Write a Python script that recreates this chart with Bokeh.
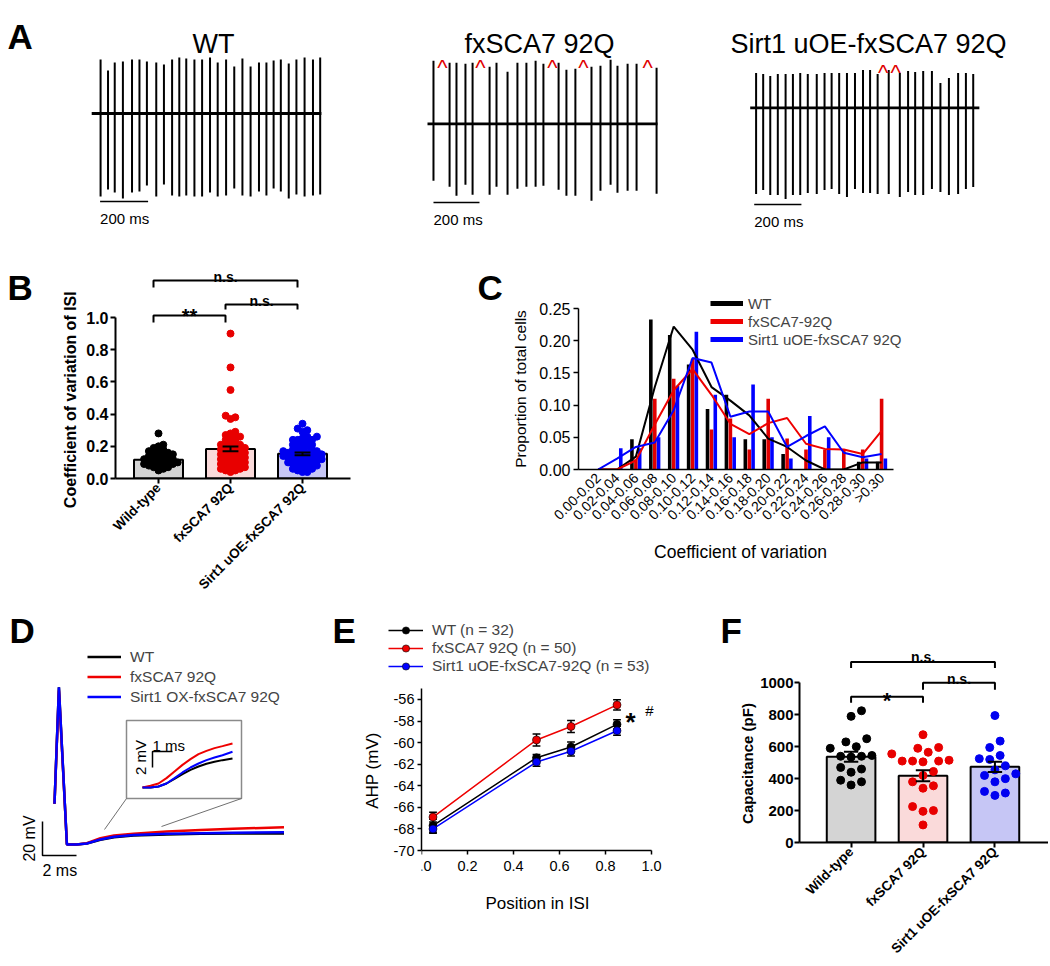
import math
from bokeh.plotting import figure
from bokeh.layouts import row, column
from bokeh.models import Range1d, Label, FixedTicker, PrintfTickFormatter, Legend, LegendItem
from bokeh.core.properties import value
from bokeh.embed import file_html
from bokeh.resources import INLINE

FONT = "Liberation Sans"
NAN = float("nan")

# ---------------- Panel A: spike trains (spike time ms, peak / trough amplitude a.u.) ----------------
wt_spike_t = [37, 68, 96, 130, 168, 199, 230, 269, 301, 335, 365, 394, 428, 460, 493, 525, 560, 594, 628, 662,
              697, 728, 758, 788, 821, 853, 887, 922, 952]
wt_spike_up = [54, 43, 51, 52, 54, 54, 52, 51, 49, 54, 56, 55, 54, 54, 56, 51, 54, 47, 55, 47,
               51, 51, 53, 54, 50, 54, 56, 54, 56]
wt_spike_dn = [83, 76, 79, 85, 79, 78, 72, 83, 71, 82, 83, 82, 83, 83, 79, 83, 82, 75, 82, 83,
               78, 82, 75, 78, 85, 81, 83, 82, 81]
wt_len = 957

fx_spike_t = [26, 96, 126, 165, 196, 270, 300, 348, 391, 430, 470, 504, 570, 604, 643, 713, 752, 796, 826, 870,
              909, 996]
fx_spike_up = [63, 61, 61, 60, 61, 57, 61, 52, 61, 61, 63, 60, 61, 54, 55, 57, 58, 64, 58, 60, 60, 56]
fx_spike_dn = [57, 63, 72, 61, 71, 71, 63, 71, 65, 63, 63, 62, 66, 72, 72, 77, 67, 61, 69, 67, 67, 70]
fx_len = 1000
fx_carets = [65, 230, 543, 678, 957]

si_spike_t = [25, 55, 85, 117, 150, 181, 212, 244, 282, 315, 345, 377, 410, 444, 478, 508, 540, 587, 634, 669,
              699, 733, 770, 806, 842, 881, 914, 945]
si_spike_up = [35, 34, 32, 34, 34, 34, 35, 34, 34, 35, 35, 35, 35, 35, 38, 38, 34, 38, 35, 37,
               36, 37, 37, 25, 30, 35, 35, 34]
si_spike_dn = [86, 82, 87, 87, 91, 87, 87, 85, 86, 82, 81, 86, 89, 81, 85, 85, 86, 86, 89, 84,
               87, 87, 81, 84, 87, 86, 81, 79]
si_len = 971
si_carets = [563, 616]

# ---------------- Panel B: CV of ISI ----------------
groups = ["Wild-type", "fxSCA7 92Q", "Sirt1 uOE-fxSCA7 92Q"]
b_mean = [0.116, 0.184, 0.153]
b_sem = [0.008, 0.014, 0.009]
b_wt = [0.28, 0.21, 0.20, 0.19, 0.18, 0.17, 0.17, 0.16, 0.16, 0.15, 0.15, 0.14, 0.14, 0.13, 0.13, 0.12,
        0.12, 0.12, 0.11, 0.11, 0.10, 0.10, 0.10, 0.09, 0.09, 0.09, 0.08, 0.08, 0.07, 0.07, 0.06, 0.05]
b_fx = [0.90, 0.69, 0.55, 0.39, 0.38, 0.37, 0.29, 0.28, 0.27, 0.26, 0.26, 0.25, 0.24, 0.23, 0.22, 0.21,
        0.21, 0.20, 0.20, 0.19, 0.19, 0.18, 0.18, 0.17, 0.17, 0.16, 0.16, 0.15, 0.15, 0.14, 0.14, 0.13,
        0.13, 0.12, 0.12, 0.11, 0.11, 0.10, 0.10, 0.09, 0.09, 0.08, 0.08, 0.07, 0.07, 0.06, 0.06, 0.05,
        0.05, 0.04]
b_si = [0.34, 0.31, 0.30, 0.29, 0.26, 0.26, 0.25, 0.24, 0.24, 0.24, 0.23, 0.22, 0.21, 0.21, 0.20, 0.20,
        0.19, 0.18, 0.18, 0.17, 0.17, 0.17, 0.16, 0.16, 0.16, 0.15, 0.15, 0.15, 0.14, 0.14, 0.14, 0.13,
        0.13, 0.13, 0.12, 0.12, 0.12, 0.11, 0.11, 0.10, 0.10, 0.10, 0.09, 0.09, 0.08, 0.08, 0.07, 0.07,
        0.06, 0.06, 0.05, 0.04, 0.04]

# ---------------- Panel C: CV histogram ----------------
c_bins = ["0.00-0.02", "0.02-0.04", "0.04-0.06", "0.06-0.08", "0.08-0.10", "0.10-0.12", "0.12-0.14",
          "0.14-0.16", "0.16-0.18", "0.18-0.20", "0.20-0.22", "0.22-0.24", "0.24-0.26", "0.26-0.28",
          "0.28-0.30", ">0.30"]
c_wt_bar = [0, 0, 0.047, 0.233, 0.209, 0.163, 0.094, 0.116, 0.047, 0.047, 0.024, 0, 0, 0, 0.012, 0.012]
c_fx_bar = [0, 0, 0.016, 0.110, 0.141, 0.172, 0.062, 0.079, 0.031, 0.110, 0.048, 0.031, 0.031, 0.031, 0.031, 0.110]
c_si_bar = [0, 0.033, 0.033, 0.050, 0.130, 0.214, 0.116, 0.050, 0.132, 0.050, 0.017, 0.083, 0.050, 0, 0.017, 0.017]
c_wt_line = [0, 0, 0.020, 0.128, 0.222, 0.186, 0.128, 0.107, 0.084, 0.048, 0.035, 0.014, 0, 0, 0.011, 0.011]
c_fx_line = [0, 0, 0.014, 0.070, 0.123, 0.156, 0.116, 0.071, 0.055, 0.072, 0.080, 0.040, 0.032, 0.031, 0.024, 0.060]
c_si_line = [0, 0.017, 0.035, 0.042, 0.092, 0.173, 0.166, 0.082, 0.090, 0.090, 0.035, 0.052, 0.067, 0.026, 0.019, 0.024]
c_labels = ["WT", "fxSCA7-92Q", "Sirt1 uOE-fxSCA7 92Q"]

# ---------------- Panel D: averaged action potentials (ms, mV) ----------------
d_t = [0, 0.26, 0.73, 1.3, 1.9, 2.7, 3.5, 4.65, 6.6, 8.6, 10.5, 13.5]
d_wt = [-44, 24.5, -68, -68, -67.4, -65.2, -63.7, -62.7, -62.1, -61.7, -61.6, -61.5]
d_fx = [-44, 22.5, -68, -68, -67.2, -64.3, -62.7, -61.7, -60.4, -59.4, -58.8, -57.8]
d_si = [-44, 24.5, -68, -68, -67.4, -65.0, -63.4, -62.4, -61.7, -61.4, -61.1, -60.8]
d_labels = ["WT", "fxSCA7 92Q", "Sirt1 OX-fxSCA7 92Q"]
# inset (ms, mV relative to inset start)
ins_t = [0, 0.4, 0.8, 1.2, 1.6, 2.0, 2.4, 2.8, 3.2, 3.6, 4.0, 4.5]
ins_wt = [0, 0, 0.13, 0.5, 1.08, 1.67, 2.21, 2.63, 2.96, 3.21, 3.42, 3.63]
ins_fx = [0, 0.21, 0.5, 1.17, 2.0, 2.83, 3.54, 4.17, 4.58, 4.92, 5.17, 5.5]
ins_si = [0, 0, 0.13, 0.5, 1.17, 1.88, 2.5, 3.0, 3.42, 3.75, 4.04, 4.46]

# ---------------- Panel E: AHP vs position in ISI ----------------
e_pos = [0.05, 0.5, 0.65, 0.85]
e_wt = [-67.7, -61.4, -60.4, -58.3]
e_wt_err = [0.6, 0.3, 0.45, 0.43]
e_fx = [-66.9, -59.75, -58.5, -56.5]
e_fx_err = [0.45, 0.55, 0.55, 0.48]
e_si = [-68.0, -61.8, -60.8, -58.9]
e_si_err = [0.4, 0.4, 0.43, 0.42]
e_labels = ["WT (n = 32)", "fxSCA7 92Q (n = 50)", "Sirt1 uOE-fxSCA7-92Q (n = 53)"]

# ---------------- Panel F: capacitance ----------------
f_mean = [537, 418, 474]
f_sem = [31, 35, 32]
f_wt = [825, 790, 650, 630, 600, 590, 545, 540, 540, 535, 470, 460, 440, 390, 380, 360]
f_fx = [675, 595, 590, 565, 555, 515, 510, 510, 510, 505, 445, 420, 380, 355, 340, 225, 200, 195, 110]
f_si = [795, 635, 595, 545, 525, 520, 480, 455, 430, 420, 400, 380, 320, 310, 295]

BAR_FILL = ["#d4d4d4", "#fadada", "#c6c6f5"]
DOT = ["#000000", "#e80000", "#0000f0"]
RED = "#ee0000"
BLUE = "#0000ff"


# ---------------- helpers ----------------
def mk(canvas, frame, xa=(0, 0, 1), ya=(0, 0, 1), axes=True):
    L, T, R, B = canvas
    l, t, r, b = frame

    def fx(px):
        return xa[1] + (px - xa[0]) / xa[2]

    def fy(py):
        return ya[1] + (ya[0] - py) / ya[2]

    kw = {} if axes else dict(x_axis_location=None, y_axis_location=None)
    p = figure(width=int(R - L), height=int(B - T),
               x_range=Range1d(fx(l), fx(r)), y_range=Range1d(fy(b), fy(t)),
               min_border_left=int(l - L), min_border_right=int(R - r),
               min_border_top=int(t - T), min_border_bottom=int(B - b),
               output_backend="svg", toolbar_location=None, **kw)
    p.outline_line_color = None
    p.grid.visible = False
    p.background_fill_color = "white"
    p.border_fill_color = "white"
    return p, fx, fy


def txt(p, x, y, text, size, bold=False, align="left", baseline="alphabetic", color="black", angle=0.0):
    p.add_layout(Label(x=x, y=y, text=text, text_font=FONT, text_font_size=f"{size}px",
                       text_font_style="bold" if bold else "normal", text_align=align,
                       text_baseline=baseline, text_color=color, angle=angle))


def style_axis(ax, lw, tick_out, lab_size, bold, lab_standoff, title_size=12, title_standoff=5):
    ax.axis_line_width = lw
    ax.axis_line_color = "black"
    ax.major_tick_line_width = lw
    ax.major_tick_line_color = "black"
    ax.major_tick_out = tick_out
    ax.major_tick_in = 0
    ax.minor_tick_line_color = None
    ax.major_label_text_font = FONT
    ax.major_label_text_font_size = f"{lab_size}px"
    ax.major_label_text_font_style = "bold" if bold else "normal"
    ax.major_label_text_color = "black"
    ax.major_label_standoff = lab_standoff
    ax.axis_label_text_font = FONT
    ax.axis_label_text_font_size = f"{title_size}px"
    ax.axis_label_text_font_style = "bold" if bold else "normal"
    ax.axis_label_text_color = "black"
    ax.axis_label_standoff = title_standoff


def swarm(vals, ppu_y, d, step):
    idx = sorted(range(len(vals)), key=lambda i: vals[i])
    placed = []
    off = [0.0] * len(vals)
    for i in idx:
        y = vals[i] * ppu_y
        k = 0
        while True:
            c = ((k + 1) // 2) * step * (1 if k % 2 else -1)
            if all((c - a) ** 2 + (y - bb) ** 2 >= d * d for a, bb in placed):
                break
            k += 1
        placed.append((c, y))
        off[i] = c
    return off


# ---------------- Row 1: Panel A ----------------
def trace_panel(canvas, x0, pxms, base, t, up, dn, dur, carets, caret_px, title, title_cx, bar_t, bar_px, letter=None):
    p, fx, fy = mk(canvas, canvas, (x0, 0.0, pxms), (base, 0.0, 1.0), axes=False)
    p.line([0, dur], [0, 0], line_color="black", line_width=2.8)
    p.segment(x0=t, y0=up, x1=t, y1=[-v for v in dn], line_color="black", line_width=2)
    if carets:
        p.text(x=carets, y=[fy(caret_px + 11)] * len(carets), text=["^"] * len(carets),
               text_color="#e00000", text_font=value(FONT), text_font_size="22px",
               text_align="center", text_baseline="alphabetic")
    p.line([bar_t, bar_t + 200], [fy(bar_px)] * 2, line_color="black", line_width=1.5)
    txt(p, bar_t, fy(bar_px + 17), "200 ms", 15)
    txt(p, fx(title_cx), fy(43), title, 27, align="center")
    if letter:
        txt(p, fx(7), fy(35.5), letter, 35, bold=True)
    return p


a1 = trace_panel((0, 0, 345, 262), 91.2, 0.24, 113, wt_spike_t, wt_spike_up, wt_spike_dn, wt_len,
                 [], 0, "WT", 213, 35, 201, letter="A")
a2 = trace_panel((345, 0, 700, 262), 427, 0.23, 123.3, fx_spike_t, fx_spike_up, fx_spike_dn, fx_len,
                 fx_carets, 56, "fxSCA7 92Q", 539, 26, 202)
a3 = trace_panel((700, 0, 1048, 262), 749.7, 0.236, 107.4, si_spike_t, si_spike_up, si_spike_dn, si_len,
                 si_carets, 61, "Sirt1 uOE-fxSCA7 92Q", 868, 17, 204)


# ---------------- bar + dot panels (B, F) ----------------
def bar_panel(canvas, frame, xa, ya, means, sems, pts, dot_size, swarm_d, yticks, yfmt, ybounds,
              tick_size, brackets, bdx, cap_half):
    p, fx, fy = mk(canvas, frame, xa, ya)
    ppx, ppy = xa[2], ya[2]
    xs = [0, 1, 2]
    p.vbar(x=xs, top=means, width=49 / ppx, fill_color=BAR_FILL, line_color="black", line_width=2)
    for i, vals in enumerate(pts):
        offs = swarm(vals, ppy, swarm_d, swarm_d * 0.5)
        p.scatter(x=[i + o / ppx for o in offs], y=vals, size=dot_size, marker="circle",
                  fill_color=DOT[i], line_color=DOT[i])
    lo = [m - s for m, s in zip(means, sems)]
    hi = [m + s for m, s in zip(means, sems)]
    p.segment(x0=xs, y0=lo, x1=xs, y1=hi, line_color="black", line_width=2)
    for yy in (lo, hi):
        p.segment(x0=[i - cap_half for i in xs], y0=yy, x1=[i + cap_half for i in xs], y1=yy,
                  line_color="black", line_width=2)
    for (i, j, yl, yg, t, ts, tb) in brackets:
        p.line([i + bdx, i + bdx, j + bdx, j + bdx], [fy(yg), fy(yl), fy(yl), fy(yg)],
               line_color="black", line_width=2)
        txt(p, (i + j) / 2 + bdx, fy(tb), t, ts, bold=True, align="center")
    style_axis(p.yaxis[0], 2, 5, tick_size, True, 2)
    style_axis(p.xaxis[0], 2, 5, 13.5, True, 2)
    p.yaxis.bounds = ybounds
    p.yaxis.ticker = FixedTicker(ticks=yticks)
    p.yaxis.formatter = PrintfTickFormatter(format=yfmt)
    p.xaxis.ticker = FixedTicker(ticks=xs)
    p.xaxis.major_label_overrides = {i: g for i, g in enumerate(groups)}
    p.xaxis.major_label_orientation = math.pi / 4
    return p


# ---------------- Row 2 ----------------
bl, blx, bly = mk((0, 262, 80, 600), (0, 262, 80, 600), axes=False)
txt(bl, blx(7), bly(287), "B", 35, bold=True)
txt(bl, blx(70), bly(397), "Coefficient of variation of  ISI", 16, bold=True, align="center",
    baseline="middle", angle=math.pi / 2)

b = bar_panel((80, 262, 380, 600), (115, 262, 350, 478), (158, 0, 72), (478, 0, 161),
              b_mean, b_sem, [b_wt, b_fx, b_si], 7, 4.8, [0, 0.2, 0.4, 0.6, 0.8, 1.0], "%.1f", (0, 1), 16,
              [(0, 2, 280, 287, "n.s.", 14, 276), (0, 1, 315, 322, "**", 20, 315),
               (1, 2, 304, 309, "n.s.", 14, 300)], -5 / 72, 0.11)

cl, clx, cly = mk((380, 262, 533, 600), (380, 262, 533, 600), axes=False)
txt(cl, clx(477), cly(287), "C", 35, bold=True)
txt(cl, clx(520), cly(388.5), "Proportion of total cells", 15.5, align="center", baseline="middle",
    angle=math.pi / 2)

c, cfx, cfy = mk((533, 262, 1048, 600), (578, 262, 902, 469), (597.6, 0, 18.9), (469, 0, 644))
idx = list(range(len(c_bins)))
for vals, col, off in ((c_wt_bar, "black", -0.21), (c_fx_bar, "#e00000", 0.0), (c_si_bar, BLUE, 0.2)):
    c.vbar(x=[i + off for i in idx], top=vals, width=0.19, fill_color=col, line_color=None)
for vals, col in ((c_wt_line, "black"), (c_fx_line, RED), (c_si_line, BLUE)):
    c.line(idx, vals, line_color=col, line_width=2)
style_axis(c.yaxis[0], 1.5, 5, 16, False, 3)
style_axis(c.xaxis[0], 1.5, 0, 14, False, 6, 17.5, 10)
c.yaxis.bounds = (0, 0.25)
c.yaxis.ticker = FixedTicker(ticks=[0, 0.05, 0.10, 0.15, 0.20, 0.25])
c.yaxis.formatter = PrintfTickFormatter(format="%.2f")
c.xaxis.bounds = (cfx(578), cfx(893))
c.xaxis.ticker = FixedTicker(ticks=idx)
c.xaxis.major_label_overrides = {i: lab for i, lab in enumerate(c_bins)}
c.xaxis.major_label_orientation = math.pi / 4
c.xaxis.axis_label = "Coefficient of variation"
c_dummies = [c.line(x=[NAN], y=[NAN], line_color=col, line_width=5) for col in ("black", RED, BLUE)]
c.add_layout(Legend(items=[LegendItem(label=value(l), renderers=[r]) for l, r in zip(c_labels, c_dummies)],
                    location=(132, 121), padding=0, spacing=0, margin=0, glyph_width=33, glyph_height=18,
                    label_height=18, label_standoff=5, border_line_color=None, background_fill_alpha=0,
                    label_text_font=FONT, label_text_font_size="15px"))

# ---------------- Row 3 ----------------
# Panel D (also carries the E letter and the E y-axis title)
d, dfx, dfy = mk((0, 600, 382, 964), (0, 600, 382, 964), (54, 0, 17), (844, -68, 1.7), axes=False)


def ifx(px):
    return (px - 142) / 20


def ify(py):
    return (787 - py) / 8


d.extra_x_ranges = {"ix": Range1d(ifx(0), ifx(382))}
d.extra_y_ranges = {"iy": Range1d(ify(964), ify(600))}
d.quad(left=dfx(126), right=dfx(241), top=dfy(720), bottom=dfy(798), fill_color="white",
       line_color="#8a8a8a", line_width=1.5)
d.segment(x0=[dfx(126), dfx(241)], y0=[dfy(798)] * 2, x1=[dfx(104), dfx(161)], y1=[dfy(829), dfy(826)],
          line_color="#707070", line_width=1)
for vals, col in ((ins_wt, "black"), (ins_fx, RED), (ins_si, BLUE)):
    d.line(ins_t, vals, line_color=col, line_width=2, x_range_name="ix", y_range_name="iy")
d.line([ifx(152), ifx(152), ifx(152) + 1], [ify(751) - 2, ify(751), ify(751)], line_color="black",
       line_width=1.5, x_range_name="ix", y_range_name="iy")
txt(d, dfx(152), dfy(745), "1 ms", 15)
txt(d, dfx(140), dfy(757), "2 mV", 15, align="center", baseline="middle", angle=math.pi / 2)
d_rs = []
for vals, col in ((d_wt, "black"), (d_fx, RED), (d_si, BLUE)):
    d_rs.append(d.line(d_t, vals, line_color=col, line_width=2.5))
sb_t, sb_v = dfx(42), dfy(855)
d.line([sb_t, sb_t, sb_t + 2], [sb_v + 20, sb_v, sb_v], line_color="black", line_width=1.5)
txt(d, dfx(29), dfy(838), "20 mV", 16, align="center", baseline="middle", angle=math.pi / 2)
txt(d, dfx(42), dfy(870), "2 ms", 16)
d.add_layout(Legend(items=[LegendItem(label=value(l), renderers=[r]) for l, r in zip(d_labels, d_rs)],
                    location=(87, 258), padding=0, spacing=1, margin=0, glyph_width=34, glyph_height=19,
                    label_height=19, label_standoff=9, border_line_color=None, background_fill_alpha=0,
                    label_text_font=FONT, label_text_font_size="15.5px"))
txt(d, dfx(9), dfy(630), "D", 35, bold=True)
txt(d, dfx(332), dfy(630), "E", 35, bold=True)
txt(d, dfx(372), dfy(770), "AHP (mV)", 17, align="center", baseline="middle", angle=math.pi / 2)

# Panel E, top strip: legend and the F letter
et, etx, ety = mk((382, 600, 757, 680), (382, 600, 757, 680), axes=False)
e_styles = [("black", e_labels[0]), (RED, e_labels[1]), (BLUE, e_labels[2])]
et_items = []
for col, lab in e_styles:
    ln = et.line(x=[NAN], y=[NAN], line_color=col, line_width=1.5)
    sc = et.scatter(x=[NAN], y=[NAN], size=8, marker="circle", fill_color=col, line_color="black",
                    line_width=0.6)
    et_items.append(LegendItem(label=value(lab), renderers=[ln, sc]))
et.add_layout(Legend(items=et_items, location=(6, 5), padding=0, spacing=0, margin=0, glyph_width=35,
                     glyph_height=18, label_height=18, label_standoff=9, border_line_color=None,
                     background_fill_alpha=0, label_text_font=FONT, label_text_font_size="15.5px"))
txt(et, etx(720), ety(630), "F", 35, bold=True)

# Panel E, plot (also carries the F y-axis title)
e, efx, efy = mk((382, 680, 757, 964), (421, 680, 757, 934), (421, 0, 230), (850, -70, 10.786))
for vals, err, col in ((e_wt, e_wt_err, "black"), (e_fx, e_fx_err, RED), (e_si, e_si_err, BLUE)):
    e.line(e_pos, vals, line_color=col, line_width=1.5)
    lo = [v - s for v, s in zip(vals, err)]
    hi = [v + s for v, s in zip(vals, err)]
    e.segment(x0=e_pos, y0=lo, x1=e_pos, y1=hi, line_color="black", line_width=1.5)
    for yy in (lo, hi):
        e.segment(x0=[x - 0.017 for x in e_pos], y0=yy, x1=[x + 0.017 for x in e_pos], y1=yy,
                  line_color="black", line_width=1.5)
    e.scatter(e_pos, vals, size=8, marker="circle", fill_color=col, line_color="black", line_width=0.6)
style_axis(e.yaxis[0], 1.5, 4, 14.5, False, 3)
style_axis(e.xaxis[0], 1.5, 4, 14.5, False, 6)
e.yaxis.bounds = (-70, -55)
e.yaxis.ticker = FixedTicker(ticks=[-70, -68, -66, -64, -62, -60, -58, -56])
e.yaxis.formatter = PrintfTickFormatter(format="%d")
e.xaxis.fixed_location = -70
e.xaxis.bounds = (0, 1)
e.xaxis.ticker = FixedTicker(ticks=[0, 0.2, 0.4, 0.6, 0.8, 1.0])
e.xaxis.formatter = PrintfTickFormatter(format="%.1f")
txt(e, efx(537), efy(903), "Position in ISI", 17, align="center")
txt(e, efx(630), efy(721), "*", 26, bold=True, align="center")
txt(e, efx(649), efy(710), "#", 15, align="center")
txt(e, efx(747), efy(763), "Capacitance (pF)", 15, bold=True, align="center", baseline="middle",
    angle=math.pi / 2)

# Panel F
f = bar_panel((757, 600, 1048, 964), (797, 600, 1048, 844), (849, 0, 72.5), (844, 0, 0.161),
              f_mean, f_sem, [f_wt, f_fx, f_si], 8, 10.5, [0, 200, 400, 600, 800, 1000], "%d", (0, 1000), 15,
              [(0, 2, 662, 668, "n.s.", 14, 657), (0, 1, 697, 703, "*", 22, 701),
               (1, 2, 683, 690, "n.s.", 14, 679)], 0, 0.1)
f.yaxis.major_label_standoff = 1

layout = column(row(a1, a2, a3),
                row(*[column(x) for x in (bl, b, cl, c)]),
                row(column(d), column(column(et), column(e)), column(f)))
open("out.html", "w").write(file_html(layout, INLINE))
